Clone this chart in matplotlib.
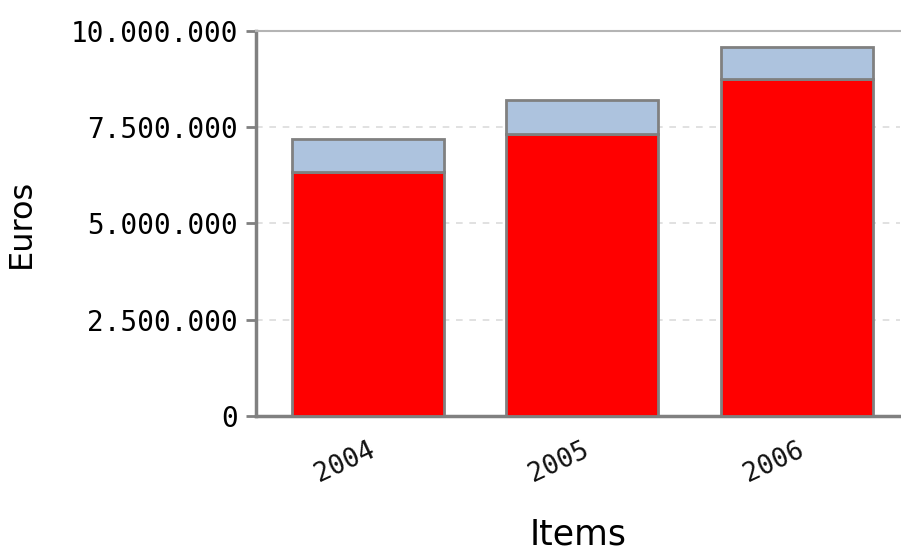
import matplotlib.pyplot as plt
import matplotlib.transforms as mtransforms
from matplotlib.ticker import FuncFormatter

# yearly totals split into two parts
years = ["2004", "2005", "2006"]
base_values = [6330000, 7320000, 8740000]
extra_values = [870000, 880000, 850000]
y_ticks = [0, 2500000, 5000000, 7500000, 10000000]

GRAY = "#808080"


def euro_fmt(v, _pos):
    return f"{int(v):,}".replace(",", ".")


fig = plt.figure(figsize=(9.01, 5.52), dpi=100)
ax = fig.add_axes([256 / 901, 0.2464, 644 / 901, 0.6975])

x = range(len(years))
ax.bar(x, base_values, width=0.71, color="#ff0000", edgecolor=GRAY, linewidth=2, zorder=3)
ax.bar(x, extra_values, width=0.71, bottom=base_values, color="#adc3de",
       edgecolor=GRAY, linewidth=2, zorder=3)

ax.set_xlim(-0.521, 2.481)
ax.set_ylim(0, 10000000)
ax.set_yticks(y_ticks)
ax.yaxis.set_major_formatter(FuncFormatter(euro_fmt))
ax.set_xticks(list(x))
ax.set_xticklabels(years, rotation=25, ha="right", rotation_mode="anchor",
                   fontsize=19, family="DejaVu Sans Mono")
shift = mtransforms.ScaledTranslation(12 / 100, 0, fig.dpi_scale_trans)
for lbl in ax.get_xticklabels():
    lbl.set_transform(lbl.get_transform() + shift)

ax.yaxis.grid(True, linestyle=(0, (4, 4)), color="#dcdcdc", linewidth=1.2, zorder=0)

ax.spines["right"].set_visible(False)
ax.spines["top"].set_color("#b4b4b4")
ax.spines["top"].set_linewidth(1.5)
ax.spines["left"].set_color(GRAY)
ax.spines["left"].set_linewidth(2.5)
ax.spines["bottom"].set_color(GRAY)
ax.spines["bottom"].set_linewidth(2.5)

ax.tick_params(axis="y", length=7, width=2, color=GRAY, labelsize=20, pad=6)
for lbl in ax.get_yticklabels():
    lbl.set_family("DejaVu Sans Mono")
ax.tick_params(axis="x", length=0, pad=15, colors="#111111")

ax.set_ylabel("Euros", fontsize=23, labelpad=24)
ax.set_xlabel("Items", fontsize=25, labelpad=22)

fig.savefig("out.png", dpi=100)
